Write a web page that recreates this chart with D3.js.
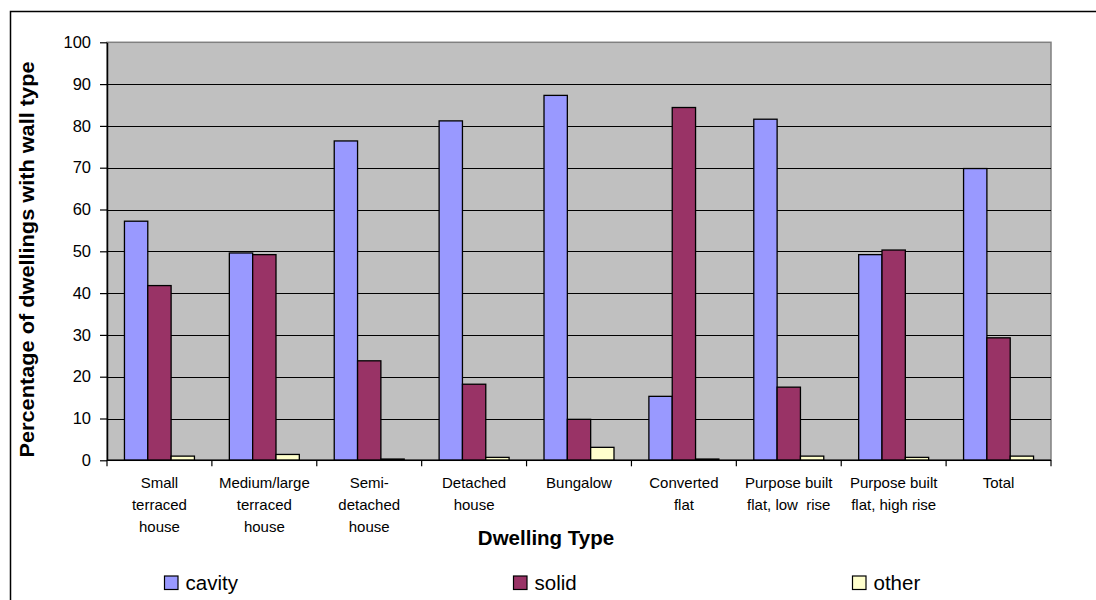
<!DOCTYPE html>
<html>
<head>
<meta charset="utf-8">
<script src="https://cdn.jsdelivr.net/npm/d3@7"></script>
<style>
  html, body { margin: 0; padding: 0; background: #fff; }
  svg { display: block; font-family: "Liberation Sans", Arial, sans-serif; }
</style>
</head>
<body>
<svg id="chart" width="1096" height="600"></svg>
<script>
// ---- data ----
const categories = [
  "Small terraced house",
  "Medium/large terraced house",
  "Semi-detached house",
  "Detached house",
  "Bungalow",
  "Converted flat",
  "Purpose built flat, low rise",
  "Purpose built flat, high rise",
  "Total"
];
const categoryLines = [
  ["Small", "terraced", "house"],
  ["Medium/large", "terraced", "house"],
  ["Semi-", "detached", "house"],
  ["Detached", "house"],
  ["Bungalow"],
  ["Converted", "flat"],
  ["Purpose built", "flat, low  rise"],
  ["Purpose built", "flat, high rise"],
  ["Total"]
];
const seriesNames = ["cavity", "solid", "other"];
const cavity = [57.2, 49.6, 76.4, 81.2, 87.3, 15.3, 81.6, 49.2, 69.8];
const solid  = [41.8, 49.2, 23.8, 18.2, 9.8, 84.4, 17.5, 50.3, 29.3];
const other  = [1.0, 1.4, 0.3, 0.7, 3.1, 0.3, 1.0, 0.7, 1.0];
const yTicks = [0, 10, 20, 30, 40, 50, 60, 70, 80, 90, 100];
const colors = ["#9999FF", "#993366", "#FFFFCC"];

const seriesValues = [cavity, solid, other];

// ---- layout ----
const svg = d3.select("#chart");
const plot = { left: 107, right: 1051, top: 42.3, bottom: 460.3 };

// outer chart border (extends beyond the picture on right/bottom)
svg.append("rect")
  .attr("x", 10.5).attr("y", 11.5)
  .attr("width", 1200).attr("height", 700)
  .attr("fill", "none").attr("stroke", "#000").attr("stroke-width", 1.5);

const x = d3.scaleBand().domain(categories).range([plot.left, plot.right]).paddingInner(0).paddingOuter(0);
const bw = x.bandwidth();
const xs = d3.scaleBand().domain(seriesNames).range([bw * 0.1664, bw * 0.8336]).padding(0);
const y = d3.scaleLinear().domain([0, 100]).range([plot.bottom, plot.top]);

// plot background
svg.append("rect")
  .attr("x", plot.left).attr("y", plot.top)
  .attr("width", plot.right - plot.left).attr("height", plot.bottom - plot.top)
  .attr("fill", "#C0C0C0").attr("stroke", "#808080").attr("stroke-width", 1.5);

// gridlines
svg.append("g").selectAll("line")
  .data(yTicks.filter(t => t > 0 && t < 100))
  .join("line")
  .attr("x1", plot.left).attr("x2", plot.right)
  .attr("y1", d => Math.round(y(d)) + 0.5).attr("y2", d => Math.round(y(d)) + 0.5)
  .attr("stroke", "#000").attr("stroke-width", 1);

// bars
const groups = svg.append("g").selectAll("g")
  .data(categories)
  .join("g")
  .attr("transform", d => `translate(${x(d)},0)`);

groups.selectAll("rect")
  .data((d, i) => seriesNames.map((s, k) => ({ s, k, v: seriesValues[k][i] })))
  .join("rect")
  .attr("x", d => xs(d.s))
  .attr("width", xs.bandwidth())
  .attr("y", d => y(d.v))
  .attr("height", d => y(0) - y(d.v))
  .attr("fill", d => colors[d.k])
  .attr("stroke", "#000")
  .attr("stroke-width", 1.3);

// y axis
const yAxis = svg.append("g")
  .attr("transform", `translate(${plot.left},0)`)
  .call(d3.axisLeft(y).tickValues(yTicks).tickSize(7).tickPadding(9).tickSizeOuter(0));
yAxis.select(".domain").attr("stroke", "#000").attr("stroke-width", 1.5);
yAxis.selectAll(".tick line").attr("stroke", "#000").attr("stroke-width", 1.2);
yAxis.selectAll(".tick text")
  .attr("font-size", 16.5).attr("fill", "#000")
  .attr("font-family", "'Liberation Sans', Arial, sans-serif");

// x axis
const xAxis = svg.append("g")
  .attr("transform", `translate(0,${plot.bottom})`);
xAxis.append("line")
  .attr("x1", plot.left).attr("x2", plot.right)
  .attr("y1", 0).attr("y2", 0)
  .attr("stroke", "#000").attr("stroke-width", 1.5);
const boundaries = categories.map(c => x(c)).concat([x(categories[categories.length - 1]) + bw]);
xAxis.selectAll("line.tk")
  .data(boundaries)
  .join("line")
  .attr("class", "tk")
  .attr("x1", d => d).attr("x2", d => d)
  .attr("y1", 0).attr("y2", 6)
  .attr("stroke", "#000").attr("stroke-width", 1.2);

// category labels
const catLabels = svg.append("g").selectAll("text")
  .data(categories)
  .join("text")
  .attr("x", d => x(d) + bw / 2)
  .attr("y", 488)
  .attr("text-anchor", "middle")
  .attr("font-size", 15)
  .attr("fill", "#000");
catLabels.each(function (d, i) {
  const t = d3.select(this);
  categoryLines[i].forEach((ln, j) => {
    t.append("tspan")
      .attr("x", x(d) + bw / 2)
      .attr("dy", j === 0 ? 0 : 22)
      .attr("xml:space", "preserve")
      .style("white-space", "pre")
      .text(ln);
  });
});

// x axis title
svg.append("text")
  .attr("x", 546).attr("y", 545)
  .attr("text-anchor", "middle")
  .attr("font-size", 20.5).attr("font-weight", "bold")
  .attr("fill", "#000")
  .text("Dwelling Type");

// y axis title
svg.append("text")
  .attr("transform", "translate(33.5,259.5) rotate(-90)")
  .attr("text-anchor", "middle")
  .attr("font-size", 20).attr("font-weight", "bold")
  .attr("textLength", 396).attr("lengthAdjust", "spacingAndGlyphs")
  .attr("fill", "#000")
  .text("Percentage of dwellings with wall type");

// legend
const legendX = [164.5, 513.5, 852.5];
const legend = svg.append("g").selectAll("g")
  .data(seriesNames)
  .join("g")
  .attr("transform", (d, i) => `translate(${legendX[i]},576)`);
legend.append("rect")
  .attr("width", 13.5).attr("height", 13.5)
  .attr("fill", (d, i) => colors[i])
  .attr("stroke", "#000").attr("stroke-width", 1.2);
legend.append("text")
  .attr("x", 21).attr("y", 13.5)
  .attr("font-size", 20.5)
  .attr("fill", "#000")
  .text(d => d);
</script>
</body>
</html>
